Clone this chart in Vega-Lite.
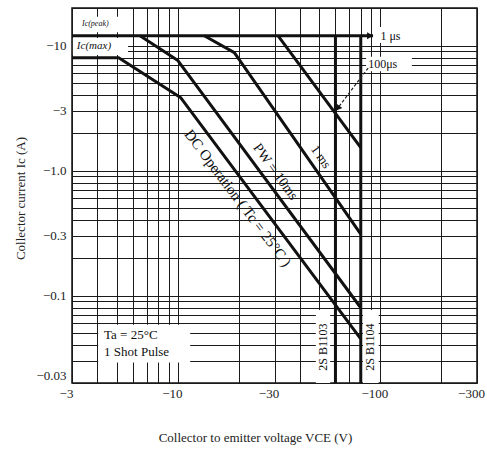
{
  "$schema": "https://vega.github.io/schema/vega-lite/v6.json",
  "width": 405,
  "height": 375,
  "autosize": {"type": "none"},
  "padding": {"left": 72, "top": 8, "right": 10, "bottom": 71},
  "background": "white",
  "config": {
    "view": {"stroke": "#111", "strokeWidth": 1.5},
    "font": "Liberation Serif"
  },
  "datasets": {
    "curves": [
      {"series": "1us", "ord": 1, "v": 3, "i": 12},
      {"series": "1us", "ord": 2, "v": 92, "i": 12},
      {"series": "100us", "ord": 1, "v": 31.2, "i": 12},
      {"series": "100us", "ord": 2, "v": 80, "i": 1.53},
      {"series": "1ms", "ord": 1, "v": 13.5, "i": 12},
      {"series": "1ms", "ord": 2, "v": 19, "i": 8.8},
      {"series": "1ms", "ord": 3, "v": 80, "i": 0.31},
      {"series": "10ms", "ord": 1, "v": 6.5, "i": 12},
      {"series": "10ms", "ord": 2, "v": 10, "i": 7.6},
      {"series": "10ms", "ord": 3, "v": 80, "i": 0.08},
      {"series": "DC", "ord": 1, "v": 3, "i": 8},
      {"series": "DC", "ord": 2, "v": 5.1, "i": 8},
      {"series": "DC", "ord": 3, "v": 10.3, "i": 3.85},
      {"series": "DC", "ord": 4, "v": 80, "i": 0.045},
      {"series": "2SB1103", "ord": 1, "v": 60, "i": 12},
      {"series": "2SB1103", "ord": 2, "v": 60, "i": 0.02},
      {"series": "2SB1104", "ord": 1, "v": 80, "i": 12},
      {"series": "2SB1104", "ord": 2, "v": 80, "i": 0.02}
    ],
    "boxes": [
      {"id": "peak", "v": 3.1, "v2": 5.87, "i": 17, "i2": 12.8},
      {"id": "max", "v": 3.03, "v2": 5.67, "i": 11.5, "i2": 8.42},
      {"id": "us1", "v": 97.5, "v2": 143, "i": 14.1, "i2": 10.5},
      {"id": "us100", "v": 85, "v2": 143, "i": 8.15, "i2": 6.25},
      {"id": "ta", "v": 4.04, "v2": 11.5, "i": 0.0584, "i2": 0.0292},
      {"id": "b1103", "v": 48, "v2": 56.5, "i": 0.0766, "i2": 0.02},
      {"id": "b1104", "v": 82, "v2": 98, "i": 0.0766, "i2": 0.02}
    ],
    "notes": [
      {"id": "peak", "label": "Ic(peak)", "v": 3.36, "i": 15.0},
      {"id": "max", "label": "Ic(max)", "v": 3.17, "i": 10},
      {"id": "us1", "label": "1 μs", "v": 100, "i": 12},
      {"id": "us100", "label": "100μs", "v": 87, "i": 7.1},
      {"id": "ta1", "label": "Ta = 25°C", "v": 4.32, "i": 0.0484},
      {"id": "ta2", "label": "1 Shot Pulse", "v": 4.32, "i": 0.0353},
      {"id": "b1103", "label": "2S B1103", "v": 52.2, "i": 0.0388},
      {"id": "b1104", "label": "2S B1104", "v": 88.6, "i": 0.0388},
      {"id": "ms1", "label": "1 ms", "v": 50.8, "i": 1.29},
      {"id": "ms10", "label": "PW = 10ms", "v": 30.3, "i": 0.976},
      {"id": "dc", "label": "DC Operation ( Tc = 25°C )", "v": 19.8, "i": 0.604}
    ],
    "arrow": [
      {"ord": 1, "v": 87, "i": 6.62},
      {"ord": 2, "v": 61, "i": 3.1}
    ],
    "heads": [
      {"id": "h1", "v": 89, "i": 12},
      {"id": "h100", "v": 61.5, "i": 3.15}
    ]
  },
  "encoding": {
    "x": {
      "field": "v",
      "type": "quantitative",
      "scale": {"type": "log", "domain": [3, 300], "nice": false, "zero": false},
      "axis": {
        "values": [3, 4, 5, 6, 7, 8, 9, 10, 20, 30, 40, 50, 60, 70, 80, 90, 100, 200, 300],
        "labelExpr": "datum.value == 3 ? '−3' : datum.value == 10 ? '−10' : datum.value == 30 ? '−30' : datum.value == 100 ? '−100' : datum.value == 300 ? '−300' : ''",
        "grid": true,
        "gridColor": "#1a1a1a",
        "gridWidth": 1,
        "ticks": false,
        "domain": false,
        "labelFont": "Liberation Serif",
        "labelFontSize": 13,
        "labelColor": "#222",
        "labelPadding": 4,
        "labelOffset": -6,
        "labelOverlap": false,
        "labelFlush": false,
        "title": "Collector to emitter voltage  VCE (V)",
        "titleFont": "Liberation Serif",
        "titleFontSize": 13,
        "titleFontWeight": "normal",
        "titleColor": "#222",
        "titleX": 183,
        "titleY": 54,
        "titleAlign": "center",
        "titleBaseline": "middle"
      }
    },
    "y": {
      "field": "i",
      "type": "quantitative",
      "scale": {"type": "log", "domain": [0.02, 20], "nice": false, "zero": false},
      "axis": {
        "values": [0.02, 0.03, 0.04, 0.05, 0.06, 0.07, 0.08, 0.09, 0.1, 0.2, 0.3, 0.4, 0.5, 0.6, 0.7, 0.8, 0.9, 1, 2, 3, 4, 5, 6, 7, 8, 9, 10, 20],
        "labelExpr": "datum.value == 10 ? '−10' : datum.value == 3 ? '−3' : datum.value == 1 ? '−1.0' : datum.value == 0.3 ? '−0.3' : datum.value == 0.1 ? '−0.1' : datum.value == 0.03 ? '−0.03' : ''",
        "grid": true,
        "gridColor": "#1a1a1a",
        "gridWidth": 1,
        "ticks": false,
        "domain": false,
        "labelFont": "Liberation Serif",
        "labelFontSize": 13,
        "labelColor": "#222",
        "labelPadding": 6,
        "labelOffset": {"condition": {"test": "datum.value == 0.03", "value": 15}, "value": 0},
        "labelOverlap": false,
        "labelFlush": false,
        "title": "Collector current  Ic (A)",
        "titleFont": "Liberation Serif",
        "titleFontSize": 13,
        "titleFontWeight": "normal",
        "titleColor": "#222",
        "titleX": -52,
        "titleY": 190,
        "titleAngle": 270,
        "titleAlign": "center",
        "titleBaseline": "middle"
      }
    }
  },
  "layer": [
    {
      "data": {"name": "boxes"},
      "mark": {"type": "rect", "fill": "white", "stroke": null},
      "encoding": {"x2": {"field": "v2"}, "y2": {"field": "i2"}}
    },
    {
      "data": {"name": "curves"},
      "mark": {"type": "line", "color": "#111", "strokeWidth": 3, "strokeJoin": "round"},
      "encoding": {
        "detail": {"field": "series", "type": "nominal"},
        "order": {"field": "ord", "type": "quantitative"}
      }
    },
    {
      "data": {"name": "arrow"},
      "mark": {"type": "line", "color": "#222", "strokeWidth": 1.2, "strokeDash": [3, 2]},
      "encoding": {"order": {"field": "ord", "type": "quantitative"}}
    },
    {
      "data": {"name": "heads"},
      "transform": [{"filter": "datum.id == 'h1'"}],
      "mark": {"type": "point", "shape": "triangle-up", "filled": true, "color": "#111", "opacity": 1, "size": 50, "angle": 90}
    },
    {
      "data": {"name": "heads"},
      "transform": [{"filter": "datum.id == 'h100'"}],
      "mark": {"type": "point", "shape": "triangle-up", "filled": true, "color": "#111", "opacity": 1, "size": 50, "angle": 217}
    },
    {
      "data": {"name": "notes"},
      "transform": [{"filter": "datum.id == 'peak'"}],
      "mark": {"type": "text", "align": "left", "baseline": "middle", "fontSize": 8, "fontStyle": "italic", "color": "#111"},
      "encoding": {"text": {"field": "label"}}
    },
    {
      "data": {"name": "notes"},
      "transform": [{"filter": "datum.id == 'max'"}],
      "mark": {"type": "text", "align": "left", "baseline": "middle", "fontSize": 11, "fontStyle": "italic", "color": "#111"},
      "encoding": {"text": {"field": "label"}}
    },
    {
      "data": {"name": "notes"},
      "transform": [{"filter": "indexof(['us1','us100'], datum.id) >= 0"}],
      "mark": {"type": "text", "align": "left", "baseline": "middle", "fontSize": 12, "color": "#111"},
      "encoding": {"text": {"field": "label"}}
    },
    {
      "data": {"name": "notes"},
      "transform": [{"filter": "indexof(['ta1','ta2'], datum.id) >= 0"}],
      "mark": {"type": "text", "align": "left", "baseline": "middle", "fontSize": 13, "color": "#111"},
      "encoding": {"text": {"field": "label"}}
    },
    {
      "data": {"name": "notes"},
      "transform": [{"filter": "indexof(['b1103','b1104'], datum.id) >= 0"}],
      "mark": {"type": "text", "align": "center", "baseline": "middle", "fontSize": 12, "angle": 270, "color": "#111"},
      "encoding": {"text": {"field": "label"}}
    },
    {
      "data": {"name": "notes"},
      "transform": [{"filter": "datum.id == 'ms1'"}],
      "mark": {"type": "text", "align": "center", "baseline": "middle", "fontSize": 13, "angle": 55, "color": "#111"},
      "encoding": {"text": {"field": "label"}}
    },
    {
      "data": {"name": "notes"},
      "transform": [{"filter": "datum.id == 'ms10'"}],
      "mark": {"type": "text", "align": "center", "baseline": "middle", "fontSize": 14, "angle": 54, "color": "#111"},
      "encoding": {"text": {"field": "label"}}
    },
    {
      "data": {"name": "notes"},
      "transform": [{"filter": "datum.id == 'dc'"}],
      "mark": {"type": "text", "align": "center", "baseline": "middle", "fontSize": 15, "angle": 53, "color": "#111"},
      "encoding": {"text": {"field": "label"}}
    }
  ]
}
